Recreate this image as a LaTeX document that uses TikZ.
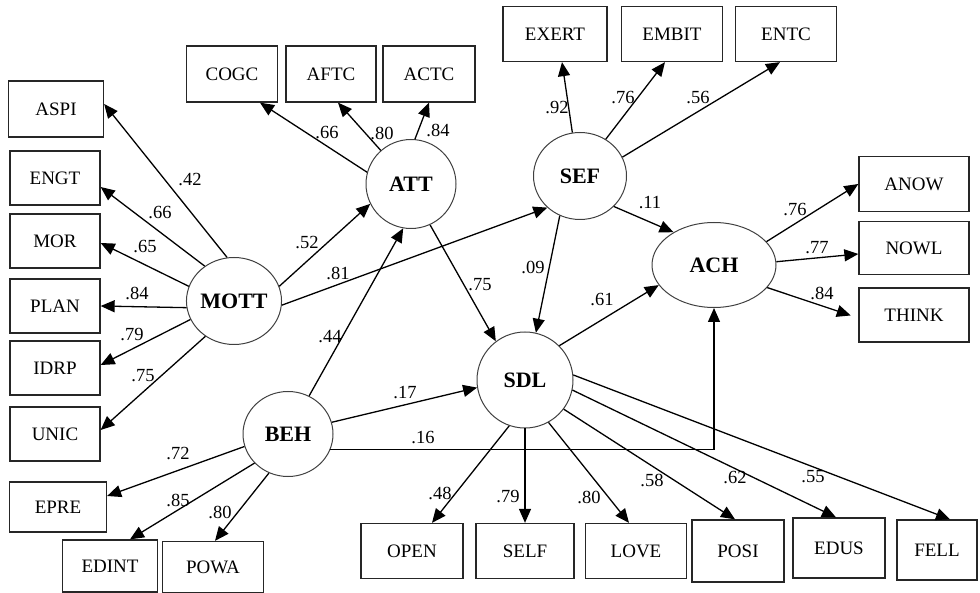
\documentclass[tikz,border=0pt]{standalone}
\usepackage{fontspec}
\setmainfont{Liberation Serif}
\usetikzlibrary{positioning,arrows.meta,shapes.geometric}
\tikzset{
  ind/.style={draw=black!85, line width=1.3pt, minimum width=91pt, minimum height=54pt,
              inner sep=0pt, font=\fontsize{19}{21}\selectfont},
  lat/.style={ellipse, draw=black!75, line width=1pt, inner sep=0pt,
              font=\fontsize{22}{24}\selectfont\bfseries},
  wt/.style={font=\fontsize{18.5}{20}\selectfont, inner sep=1pt},
  lnk/.style={-{Triangle[length=14pt,width=12pt]}, line width=1.3pt},
}

\begin{document}
\begin{tikzpicture}[x=1pt, y=-1pt]
  \useasboundingbox (0,0) rectangle (980,593);
  % latent variables
  \node[lat, minimum width=86pt, minimum height=87pt] (mott) at (234,301) {MOTT};
  \node[lat, minimum width=90pt, minimum height=85pt] (beh) at (288,434) {BEH};
  \node[lat, minimum width=90pt, minimum height=89pt] (att) at (411,184) {ATT};
  \node[lat, minimum width=93pt, minimum height=87pt] (sef) at (580,176) {SEF};
  \node[lat, minimum width=124pt, minimum height=85pt] (ach) at (714,265) {ACH};
  \node[lat, minimum width=96pt, minimum height=96pt] (sdl) at (525,380) {SDL};
  % indicators of MOTT
  \node[ind, minimum width=95pt, minimum height=56pt] (aspi) at (56,109) {ASPI};
  \node[ind, minimum width=90pt] (engt) at (55,178) {ENGT};
  \node[ind, minimum width=90pt] (mor) at (55,241) {MOR};
  \node[ind, minimum width=90pt] (plan) at (55,306) {PLAN};
  \node[ind, minimum width=90pt] (idrp) at (55,368) {IDRP};
  \node[ind, minimum width=90pt] (unic) at (55,434) {UNIC};
  % indicators of BEH
  \node[ind, minimum width=97pt, minimum height=50pt] (epre) at (58,507) {EPRE};
  \node[ind, minimum width=95pt, minimum height=52pt] (edint) at (110,566) {EDINT};
  \node[ind, minimum width=101pt, minimum height=51pt] (powa) at (213,567) {POWA};
  % indicators of ATT
  \node[ind, minimum height=56pt] (cogc) at (232,74) {COGC};
  \node[ind, minimum width=90pt, minimum height=56pt] (aftc) at (331,74) {AFTC};
  \node[ind, minimum width=92pt, minimum height=56pt] (actc) at (429,74) {ACTC};
  % indicators of SEF
  \node[ind, minimum width=104pt, minimum height=55pt] (exert) at (555,34) {EXERT};
  \node[ind, minimum width=101pt, minimum height=55pt] (embit) at (672,34) {EMBIT};
  \node[ind, minimum width=101pt, minimum height=55pt] (entc) at (786,34) {ENTC};
  % indicators of ACH
  \node[ind, minimum width=110pt, minimum height=55pt] (anow) at (914,184) {ANOW};
  \node[ind, minimum width=110pt, minimum height=53pt] (nowl) at (914,248) {NOWL};
  \node[ind, minimum width=110pt, minimum height=54pt] (think) at (914,315) {THINK};
  % indicators of SDL
  \node[ind, minimum width=102pt, minimum height=55pt] (open) at (412,551) {OPEN};
  \node[ind, minimum width=98pt, minimum height=55pt] (self) at (525,551) {SELF};
  \node[ind, minimum width=101pt, minimum height=55pt] (love) at (636,551) {LOVE};
  \node[ind, minimum width=92pt, minimum height=62pt] (posi) at (738,551) {POSI};
  \node[ind, minimum width=92pt, minimum height=60pt] (edus) at (839,548) {EDUS};
  \node[ind, minimum width=80pt, minimum height=60pt] (fell) at (937,550) {FELL};

  % measurement paths
  \draw[lnk] (mott.99) -- ([yshift=5pt]aspi.east);
  \draw[lnk] (mott.130) -- ([yshift=-9pt]engt.east);
  \draw[lnk] (mott.162) -- ([yshift=-2pt]mor.east);
  \draw[lnk] (mott.188) -- (plan.east);
  \draw[lnk] (mott.203) -- ([yshift=3pt]idrp.east);
  \draw[lnk] (mott.231) -- ([yshift=4pt]unic.east);
  \draw[lnk] (beh.196) -- ([yshift=11pt]epre.east);
  \draw[lnk] (beh.221) -- ([xshift=20pt]edint.north);
  \draw[lnk] (beh.244) -- ([xshift=2pt]powa.north);
  \draw[lnk] (att.165) -- ([xshift=28pt]cogc.south);
  \draw[lnk] (att.132) -- ([xshift=7pt]aftc.south);
  \draw[lnk] (att.85) -- (actc.south);
  \draw[lnk] (sef.100) -- ([xshift=7pt]exert.south);
  \draw[lnk] (sef.55) -- ([xshift=-7pt]embit.south);
  \draw[lnk] (sef.24) -- ([xshift=-6pt]entc.south);
  \draw[lnk] (ach.24) -- (anow.west);
  \draw[lnk] (ach.3) -- ([yshift=-6pt]nowl.west);
  \draw[lnk, shorten >=8pt] (ach.-23) -- ([yshift=-3pt]think.west);
  \draw[lnk] (sdl.251) -- ([xshift=20pt]open.north);
  \draw[lnk] (sdl.south) -- (self.north);
  \draw[lnk] (sdl.-61) -- ([xshift=-7pt]love.north);
  \draw[lnk] (sdl.-37) -- ([xshift=-3pt]posi.north);
  \draw[lnk] (sdl.-12) -- ([xshift=-3pt]edus.north);
  \draw[lnk] (sdl.6) -- ([xshift=13pt]fell.north);

  % structural paths
  \draw[lnk] (mott.18) -- (att.206);
  \draw[lnk] (mott.-5) -- (sef.224);
  \draw[lnk] (beh.61) -- (att.260);
  \draw[lnk] (beh.15) -- (sdl.189);
  \draw[lnk] (beh.-20) -| (ach.south);
  \draw[lnk] (att.-65) -- (sdl.127);
  \draw[lnk] (sef.243) -- (sdl.77);
  \draw[lnk] (sef.-42) -- (ach.141);
  \draw[lnk] (sdl.45) -- (ach.200);

  % weights
  \node[wt] (w1) at (190,180) {.42};
  \node[wt] (w2) at (160,213) {.66};
  \node[wt] (w3) at (145,247) {.65};
  \node[wt] (w4) at (137,293) {.84};
  \node[wt] (w5) at (132,335) {.79};
  \node[wt] (w6) at (143,376) {.75};
  \node[wt] (w7) at (307,243) {.52};
  \node[wt] (w8) at (338,273) {.81};
  \node[wt] (w9) at (330,337) {.44};
  \node[wt] (w10) at (178,454) {.72};
  \node[wt] (w11) at (178,500) {.85};
  \node[wt] (w12) at (220,512) {.80};
  \node[wt] (w13) at (327,133) {.66};
  \node[wt] (w14) at (382,133) {.80};
  \node[wt] (w15) at (438,130) {.84};
  \node[wt] (w16) at (557,108) {.92};
  \node[wt] (w17) at (623,98) {.76};
  \node[wt] (w18) at (698,98) {.56};
  \node[wt] (w19) at (650,203) {.11};
  \node[wt] (w20) at (480,285) {.75};
  \node[wt] (w21) at (533,267) {.09};
  \node[wt] (w22) at (602,300) {.61};
  \node[wt] (w23) at (405,393) {.17};
  \node[wt] (w24) at (423,438) {.16};
  \node[wt] (w25) at (795,210) {.76};
  \node[wt] (w26) at (817,248) {.77};
  \node[wt] (w27) at (822,293) {.84};
  \node[wt] (w28) at (440,493) {.48};
  \node[wt] (w29) at (508,497) {.79};
  \node[wt] (w30) at (589,497) {.80};
  \node[wt] (w31) at (652,480) {.58};
  \node[wt] (w32) at (735,478) {.62};
  \node[wt] (w33) at (813,477) {.55};
\end{tikzpicture}
\end{document}
